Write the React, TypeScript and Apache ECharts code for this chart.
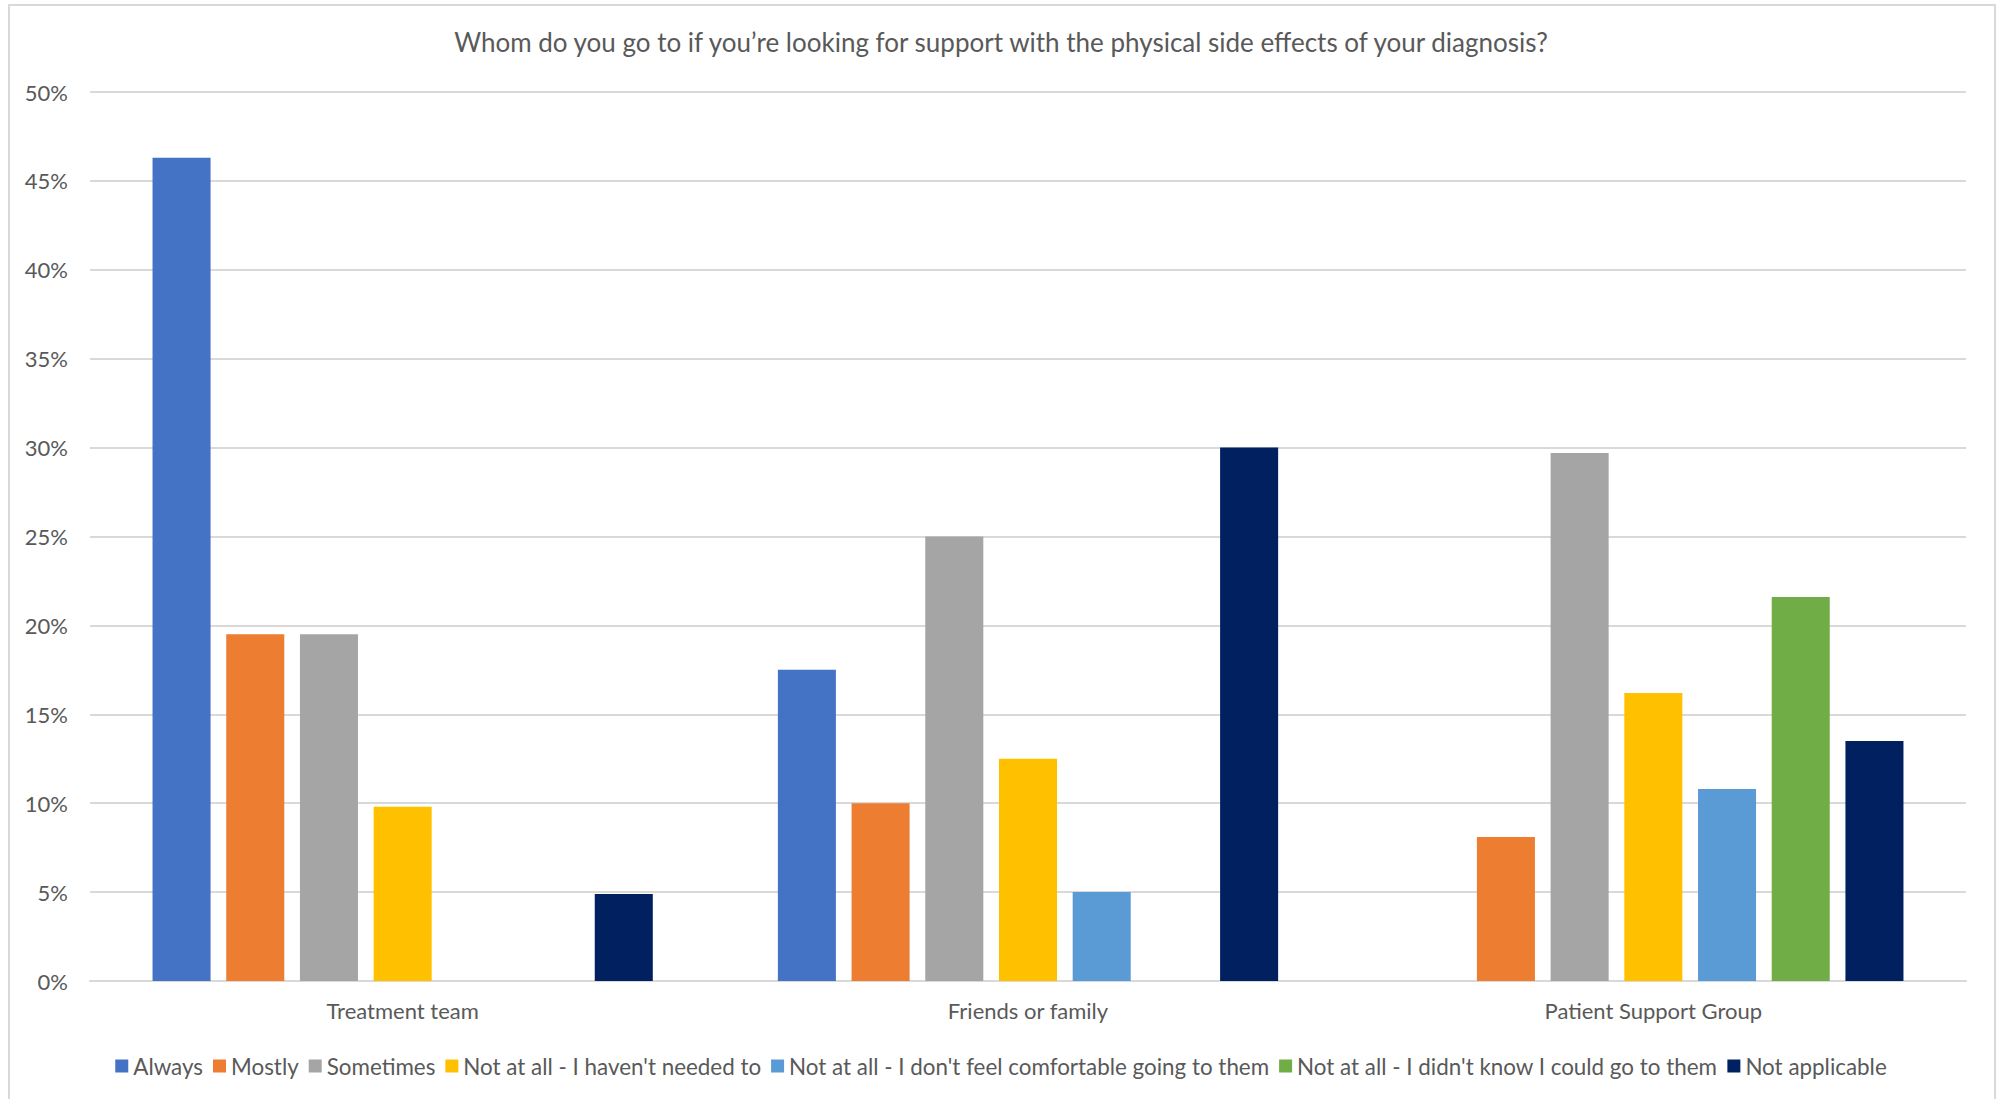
import React, { useEffect, useRef } from "react";
import * as echarts from "echarts";

// Survey responses, share of respondents (%) per source of support
const categories = ["Treatment team", "Friends or family", "Patient Support Group"];
const seriesNames = [
  "Always",
  "Mostly",
  "Sometimes",
  "Not at all - I haven't needed to",
  "Not at all - I don't feel comfortable going to them",
  "Not at all - I didn't know I could go to them",
  "Not applicable",
];
const always = [46.3, 17.5, 0];
const mostly = [19.5, 10, 8.1];
const sometimes = [19.5, 25, 29.7];
const notNeeded = [9.8, 12.5, 16.2];
const notComfortable = [0, 5, 10.8];
const didntKnow = [0, 0, 21.6];
const notApplicable = [4.9, 30, 13.5];
const yTicks = { min: 0, max: 50, interval: 5 };

const title = "Whom do you go to if you’re looking for support with the physical side effects of your diagnosis?";
const palette = ["#4472C4", "#ED7D31", "#A5A5A5", "#FFC000", "#5B9BD5", "#70AD47", "#002060"];

const FONT = "Lato, 'Open Sans', sans-serif";
const TEXT = "#595959";
const LINE = "#d9d9d9";

export default function App() {
  const ref = useRef<HTMLDivElement>(null);

  useEffect(() => {
    if (!ref.current) return;
    const chart = echarts.init(ref.current, null, { renderer: "svg" });
    const values = [always, mostly, sometimes, notNeeded, notComfortable, didntKnow, notApplicable];

    chart.setOption({
      animation: false,
      backgroundColor: "#ffffff",
      color: palette,
      textStyle: { fontFamily: FONT },
      title: {
        text: title,
        left: "center",
        top: 24,
        textStyle: { fontFamily: FONT, fontSize: 26, fontWeight: "normal", color: TEXT },
      },
      graphic: [
        {
          type: "rect",
          shape: { x: 9, y: 5, width: 1986, height: 1100 },
          style: { fill: "none", stroke: LINE, lineWidth: 2 },
          silent: true,
          z: -1,
        },
      ],
      legend: {
        bottom: 17,
        left: "center",
        itemWidth: 13,
        itemHeight: 13,
        itemGap: 10,
        icon: "rect",
        textStyle: { fontFamily: FONT, fontSize: 22.4, color: TEXT },
        data: seriesNames,
      },
      grid: { left: 90, right: 36, top: 92, bottom: 118, containLabel: false },
      xAxis: {
        type: "category",
        data: categories,
        axisTick: { show: false },
        axisLine: { lineStyle: { color: LINE, width: 2 } },
        axisLabel: { color: TEXT, fontFamily: FONT, fontSize: 22, margin: 18 },
      },
      yAxis: {
        type: "value",
        min: yTicks.min,
        max: yTicks.max,
        interval: yTicks.interval,
        axisLine: { show: false },
        axisTick: { show: false },
        splitLine: { lineStyle: { color: LINE, width: 2 } },
        axisLabel: {
          color: TEXT,
          fontFamily: FONT,
          fontSize: 22,
          margin: 22,
          formatter: "{value}%",
        },
      },
      series: seriesNames.map((name, i) => ({
        name,
        type: "bar",
        data: values[i],
        barGap: "27%",
        barCategoryGap: "20%",
        itemStyle: { color: palette[i] },
      })),
    });

    return () => chart.dispose();
  }, []);

  return (
    <div
      ref={ref}
      style={{ position: "fixed", left: 0, top: 0, width: 2002, height: 1099 }}
    />
  );
}
